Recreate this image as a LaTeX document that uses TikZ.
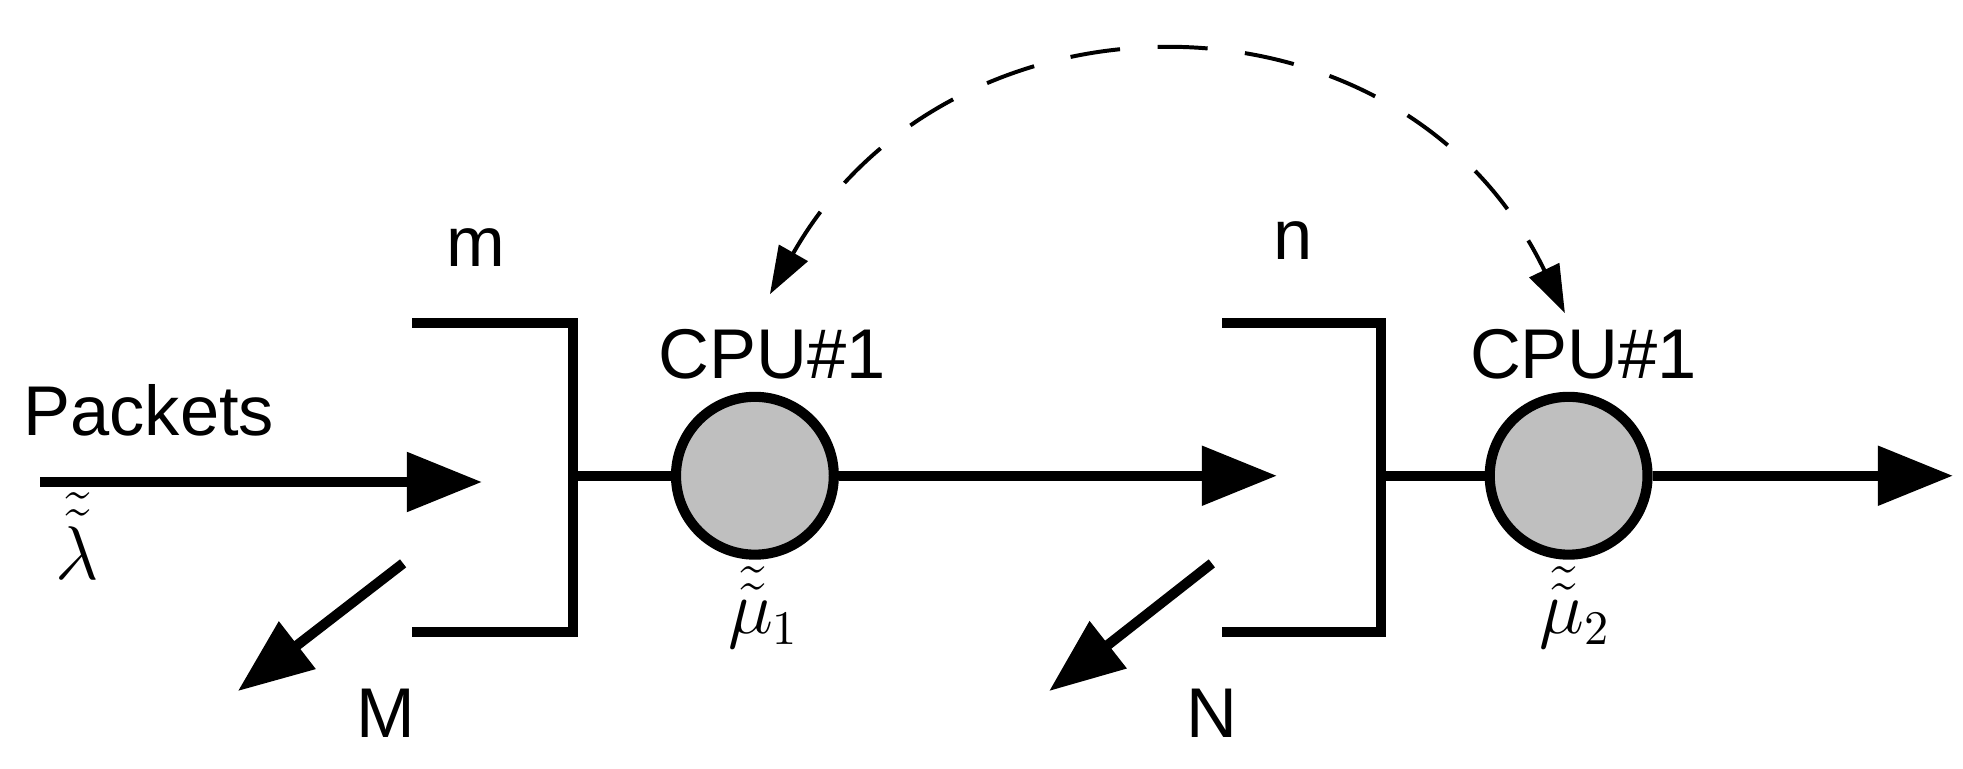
\documentclass[tikz,border=0pt]{standalone}
\usepackage{amsmath}
\usepackage{fontspec}
\setmainfont{Liberation Sans}
\usetikzlibrary{arrows.meta}

\tikzset{
  flow/.style={line width=2.3pt, -{Triangle[length=0.6cm,width=0.46cm]}},
  wall/.style={line width=2.3pt, line cap=rect},
  cpu/.style={circle, draw, line width=2.3pt, fill=gray!50, minimum width=1.26cm, minimum height=1.18cm, inner sep=0pt},
  lbl/.style={font=\fontsize{16}{19}\selectfont, inner sep=0pt},
  feedback/.style={line width=0.9pt, dash pattern=on 0.4cm off 0.3cm, {Triangle[length=0.38cm,width=0.26cm]}-{Triangle[length=0.38cm,width=0.26cm]}}
}

\begin{document}
\begin{tikzpicture}[x=0.01cm, y=-0.01cm]
  \useasboundingbox (0,0) rectangle (1568,614);

  % first queue
  \coordinate (in)   at (32,385);
  \coordinate (qa)   at (385,385);
  \coordinate (qat)  at (333,258);
  \coordinate (qab)  at (333,505);
  \coordinate (qac)  at (458,380);
  \coordinate (dropa) at (322,450);
  \coordinate (lossa) at (190,552);
  \node[cpu] (cpua) at (603,380) {};

  % second queue
  \coordinate (qb)   at (1020,380);
  \coordinate (qbt)  at (980,258);
  \coordinate (qbb)  at (980,505);
  \coordinate (qbc)  at (1103,380);
  \coordinate (dropb) at (968,450);
  \coordinate (lossb) at (838,552);
  \coordinate (out)  at (1560,380);
  \node[cpu] (cpub) at (1253,380) {};

  \draw[wall] (qat) -- (458,258) -- (458,505) -- (qab);
  \draw[wall] (qbt) -- (1103,258) -- (1103,505) -- (qbb);
  \draw[wall] (qac) -- (cpua);
  \draw[wall] (qbc) -- (cpub);

  \draw[flow] (in) -- (qa);
  \draw[flow] (cpua) -- (qb);
  \draw[flow] (cpub) -- (out);
  \draw[flow] (dropa) -- (lossa);
  \draw[flow] (dropb) -- (lossb);

  \coordinate (fba) at (615,235);
  \coordinate (fbb) at (1250,250);
  \draw[feedback] (fba) .. controls (760,-20) and (1120,-20) .. (fbb);

  % labels
  \node[lbl, anchor=west] (pk) at (18,328) {Packets};
  \node[lbl] (lam) at (62,428) {$\tilde{\tilde{\lambda}}$};
  \node[lbl] (m) at (380,198) {m};
  \node[lbl] (M) at (308,570) {M};
  \node[lbl] (n) at (1033,192) {n};
  \node[lbl] (N) at (968,570) {N};
  \node[lbl] (ca) at (617,283) {CPU\#1};
  \node[lbl] (cb) at (1265,283) {CPU\#1};
  \node[lbl] (mua) at (610,485) {$\tilde{\tilde{\mu}}_1$};
  \node[lbl] (mub) at (1258,485) {$\tilde{\tilde{\mu}}_2$};
\end{tikzpicture}
\end{document}
